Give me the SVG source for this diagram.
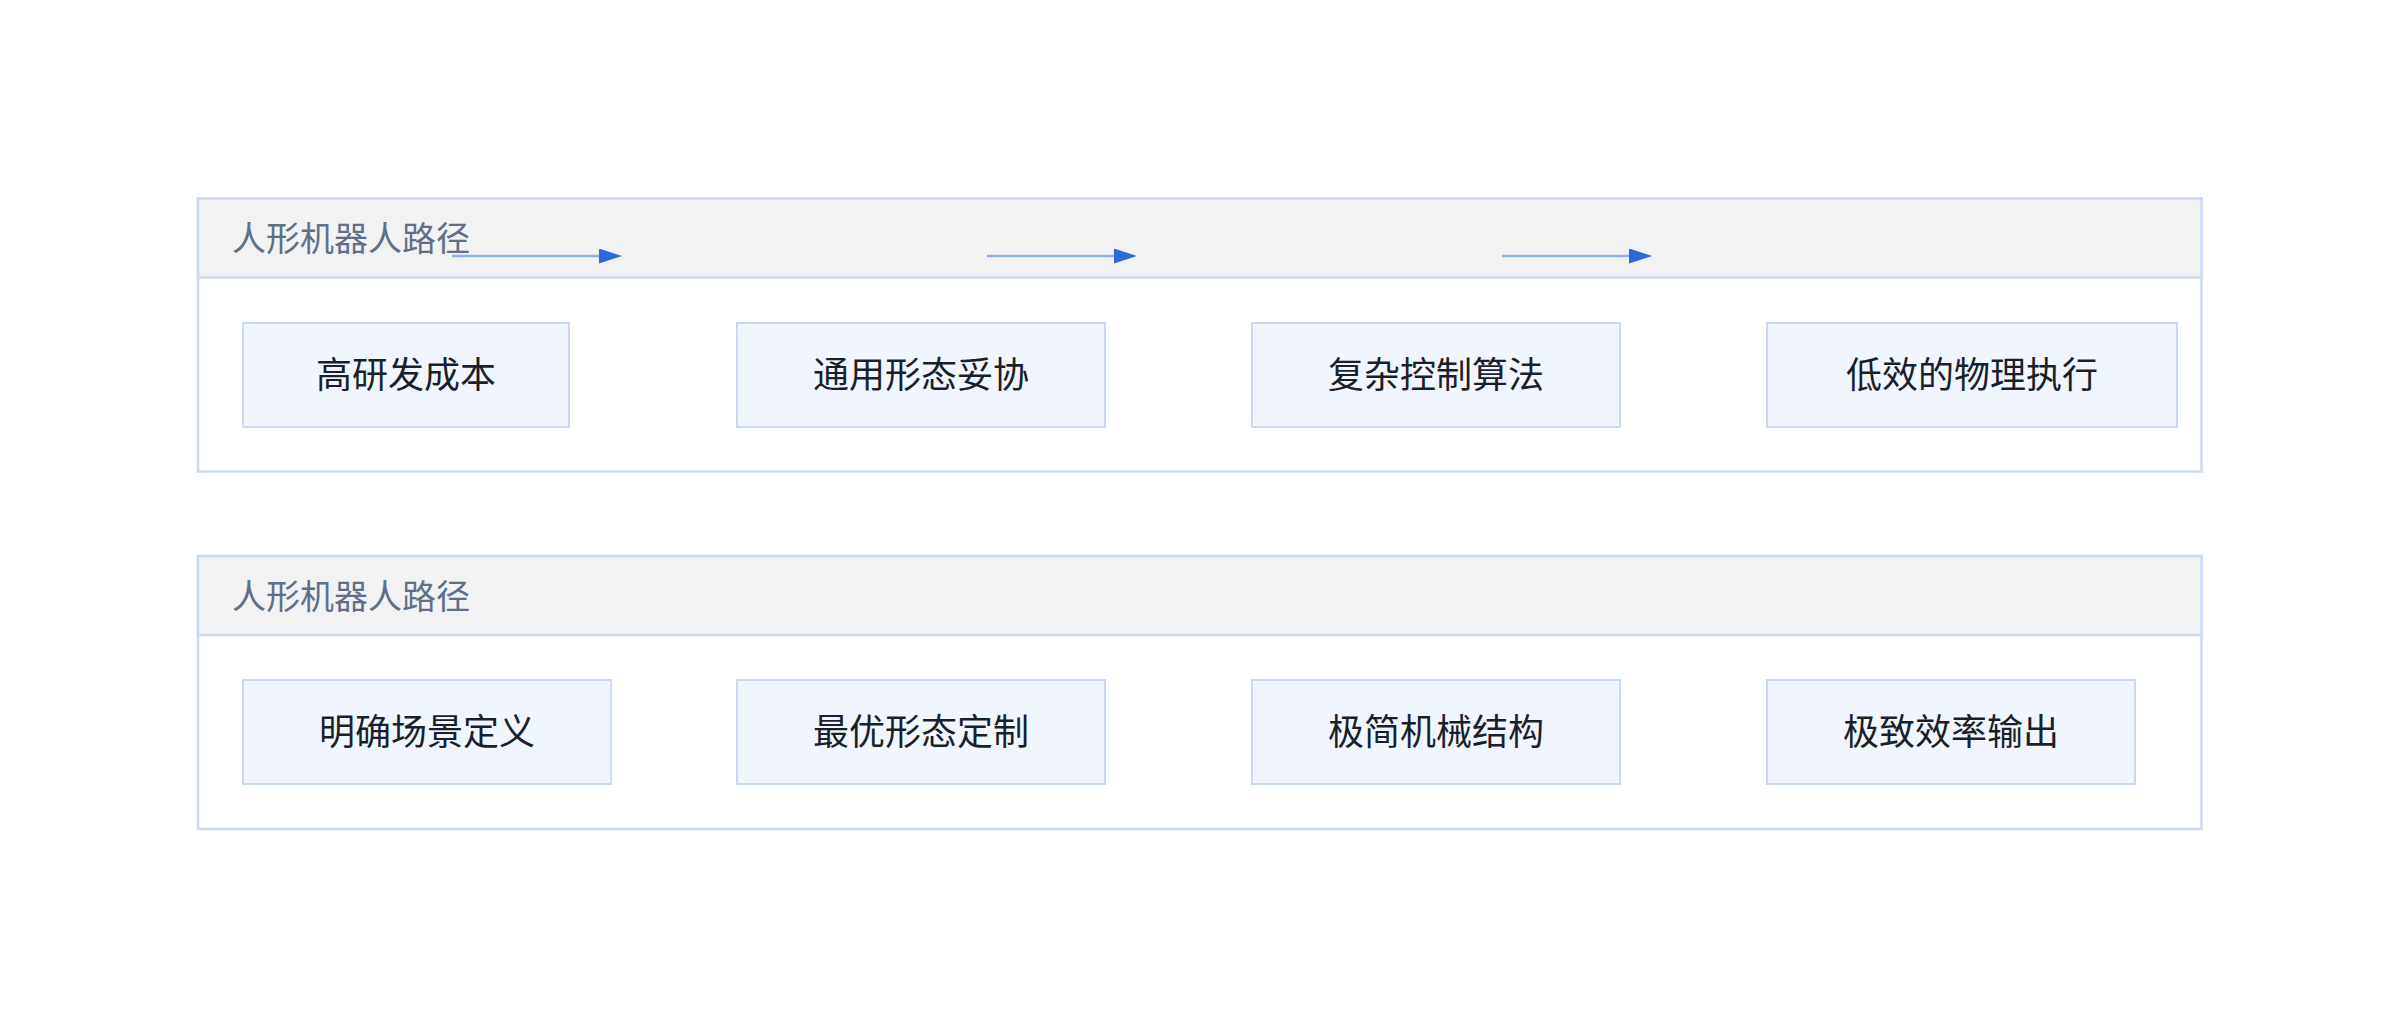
<svg xmlns="http://www.w3.org/2000/svg" width="2400" height="1028" viewBox="0 0 2400 1028">
  <defs>
    <style>
      .group-box { fill: #ffffff; stroke: #cbdaf2; stroke-width: 2.5; }
      .group-head { fill: #f2f2f2; stroke: #cbdaf2; stroke-width: 2.5; }
      .group-title { font-family: "Noto Sans CJK SC", "Noto Sans", sans-serif; font-size: 34px; fill: #5f6f87; }
      .node rect { fill: #f0f5fe; stroke: #c9d9f3; stroke-width: 2; }
      .node text { font-family: "Noto Sans CJK SC", "Noto Sans", sans-serif; font-size: 36px; fill: #1b1f29; text-anchor: middle; }
      .edge { stroke: #8eb0ec; stroke-width: 2.5; fill: none; marker-end: url(#arrow); }
    </style>
    <marker id="arrow" markerUnits="userSpaceOnUse" markerWidth="23" markerHeight="16" refX="0" refY="7.5" orient="auto">
      <path d="M0,0 L23,7.5 L0,15 z" fill="#2d6ad8"/>
    </marker>
  </defs>
  <rect width="2400" height="1028" fill="#ffffff"/>

  <g id="group-top">
    <rect class="group-box" x="198" y="198.5" width="2003.5" height="273"/>
    <rect class="group-head" x="198" y="198.5" width="2003.5" height="79"/>
    <text class="group-title" x="232" y="251">人形机器人路径</text>
  </g>
  <g id="group-bottom">
    <rect class="group-box" x="198" y="556" width="2003.5" height="273"/>
    <rect class="group-head" x="198" y="556" width="2003.5" height="79"/>
    <text class="group-title" x="232" y="608.5">人形机器人路径</text>
  </g>

  <g id="node-a1" class="node"><rect x="243" y="323" width="326" height="104"/><text x="406" y="388">高研发成本</text></g>
  <g id="node-a2" class="node"><rect x="737" y="323" width="368" height="104"/><text x="921" y="388">通用形态妥协</text></g>
  <g id="node-a3" class="node"><rect x="1252" y="323" width="368" height="104"/><text x="1436" y="388">复杂控制算法</text></g>
  <g id="node-a4" class="node"><rect x="1767" y="323" width="410" height="104"/><text x="1972" y="388">低效的物理执行</text></g>

  <g id="node-b1" class="node"><rect x="243" y="680" width="368" height="104"/><text x="427" y="745">明确场景定义</text></g>
  <g id="node-b2" class="node"><rect x="737" y="680" width="368" height="104"/><text x="921" y="745">最优形态定制</text></g>
  <g id="node-b3" class="node"><rect x="1252" y="680" width="368" height="104"/><text x="1436" y="745">极简机械结构</text></g>
  <g id="node-b4" class="node"><rect x="1767" y="680" width="368" height="104"/><text x="1951" y="745">极致效率输出</text></g>

  <g id="connectors">
    <line class="edge" x1="452" y1="256" x2="599" y2="256"/>
    <line class="edge" x1="987" y1="256" x2="1114" y2="256"/>
    <line class="edge" x1="1502" y1="256" x2="1629" y2="256"/>
  </g>
</svg>
